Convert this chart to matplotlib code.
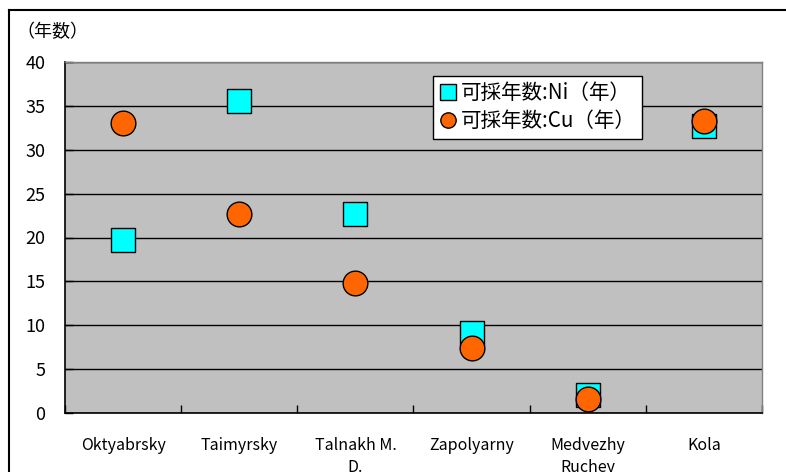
import matplotlib
matplotlib.use("Agg")
import matplotlib.pyplot as plt
from matplotlib.lines import Line2D
import numpy as np

plt.rcParams['font.family'] = ['Noto Sans CJK JP', 'DejaVu Sans']

# Mine names and remaining reserve life (years)
mines = ["Oktyabrsky", "Taimyrsky", "Talnakh M.\nD.", "Zapolyarny", "Medvezhy\nRuchey", "Kola"]
ni_years = [19.7, 35.5, 22.7, 9.1, 2.1, 32.7]
cu_years = [33.0, 22.7, 14.8, 7.4, 1.6, 33.3]
ni_label = "可採年数:Ni（年）"
cu_label = "可採年数:Cu（年）"
y_title = "（年数）"
y_ticks = [0, 5, 10, 15, 20, 25, 30, 35, 40]

W, H = 786, 472
fig = plt.figure(figsize=(W / 100, H / 100), dpi=100)
fig.patch.set_facecolor("white")

ax = fig.add_axes([65 / W, 1 - 413 / H, (762 - 65) / W, (413 - 62) / H])
ax.set_facecolor("#C0C0C0")

x = np.arange(len(mines))
ax.set_xlim(-0.5, len(mines) - 0.5)
ax.set_ylim(0, 40)

# horizontal gridlines
ax.set_yticks(y_ticks)
ax.yaxis.grid(True, color="black", linewidth=1.0)
ax.set_axisbelow(True)

msize = 17.8
ax.plot(x, ni_years, linestyle="none", marker="s", markersize=msize,
        markerfacecolor="#00FFFF", markeredgecolor="black", markeredgewidth=1.0,
        label=ni_label, zorder=3)
ax.plot(x, cu_years, linestyle="none", marker="o", markersize=msize,
        markerfacecolor="#FF6600", markeredgecolor="black", markeredgewidth=1.0,
        label=cu_label, zorder=4)

# category ticks at the boundaries, labels centred under each mine
ax.set_xticks(np.arange(len(mines) + 1) - 0.5)
ax.set_xticklabels([])
ax.set_xticks(x, minor=True)
ax.set_xticklabels(mines, minor=True, fontsize=11.5, linespacing=1.4)
ax.tick_params(axis="x", which="major", direction="in", length=6, width=1, color="black")
ax.tick_params(axis="x", which="minor", length=0, pad=17)
for lbl in ax.get_xticklabels(minor=True):
    lbl.set_verticalalignment("top")

ax.tick_params(axis="y", direction="in", length=6, width=1, pad=14, labelsize=13)

for side in ("top", "right"):
    ax.spines[side].set_color("#808080")
    ax.spines[side].set_linewidth(1.0)
for side in ("left", "bottom"):
    ax.spines[side].set_color("black")
    ax.spines[side].set_linewidth(1.2)

fig.text(16 / W, 1 - 32 / H, y_title, fontsize=13, ha="left", va="center")

leg = ax.legend(loc="upper left", bbox_to_anchor=((433 - 65) / (762 - 65), 1 - (76 - 62) / (413 - 62)),
                fontsize=14.8, frameon=True, fancybox=False, borderpad=0.3,
                handletextpad=0.15, handlelength=0.9, labelspacing=0.3,
                borderaxespad=0, markerscale=0.62)
leg.get_frame().set_edgecolor("black")
leg.get_frame().set_linewidth(1.0)
leg.get_frame().set_facecolor("white")
leg.get_frame().set_alpha(1.0)

# outer chart frame (top and left edges)
frame_x = 9 / W
frame_y = 1 - 10 / H
fig.add_artist(Line2D([frame_x, frame_x], [0, frame_y], transform=fig.transFigure,
                      color="black", linewidth=1.5))
fig.add_artist(Line2D([frame_x, 1], [frame_y, frame_y], transform=fig.transFigure,
                      color="black", linewidth=1.5))

fig.savefig("out.png", dpi=100, facecolor="white")
